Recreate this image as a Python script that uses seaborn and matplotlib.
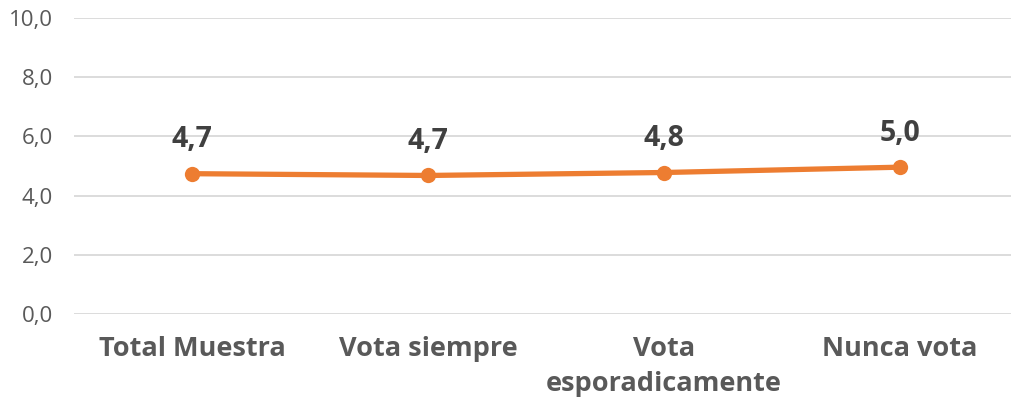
import matplotlib
matplotlib.use("Agg")
import matplotlib.pyplot as plt
import seaborn as sns
import pandas as pd

categories = ["Total Muestra", "Vota siempre", "Vota\nesporadicamente", "Nunca vota"]
values = [4.74, 4.68, 4.78, 4.96]
value_labels = ["4,7", "4,7", "4,8", "5,0"]
yticks = [0, 2, 4, 6, 8, 10]

sns.set_theme(style="white")
plt.rcParams["font.family"] = ["Open Sans", "DejaVu Sans"]

df = pd.DataFrame({"categoria": categories, "valor": values})

fig = plt.figure(figsize=(10.11, 4.07), dpi=100)
ax = fig.add_axes([0.0732, 0.2285, 0.9337, 0.7273])

sns.lineplot(data=df, x="categoria", y="valor", sort=False, ax=ax,
             color="#ED7D31", linewidth=3.8, marker="o", markersize=11,
             markeredgewidth=0)

for i, (v, lab) in enumerate(zip(values, value_labels)):
    ax.annotate(lab, (i, v), xytext=(0, 19), textcoords="offset points",
                ha="center", va="baseline", fontsize=20.5, fontweight="bold",
                color="#404040")

ax.set_xlim(-0.5, 3.5)
ax.set_ylim(0, 10)
ax.set_yticks(yticks)
ax.set_yticklabels([f"{t:.1f}".replace(".", ",") for t in yticks],
                   fontsize=16, color="#595959")
ax.set_xticks(range(len(categories)))
ax.set_xticklabels(categories, fontsize=19.5, fontweight="bold", color="#595959",
                   linespacing=1.45, va="top")
ax.tick_params(axis="x", length=0, pad=16)
ax.tick_params(axis="y", length=0, pad=15)
ax.yaxis.grid(True, color="#D9D9D9", linewidth=1.3)
ax.set_axisbelow(True)
for s in ax.spines.values():
    s.set_visible(False)
ax.set_xlabel("")
ax.set_ylabel("")

fig.savefig("out.png", dpi=100)
